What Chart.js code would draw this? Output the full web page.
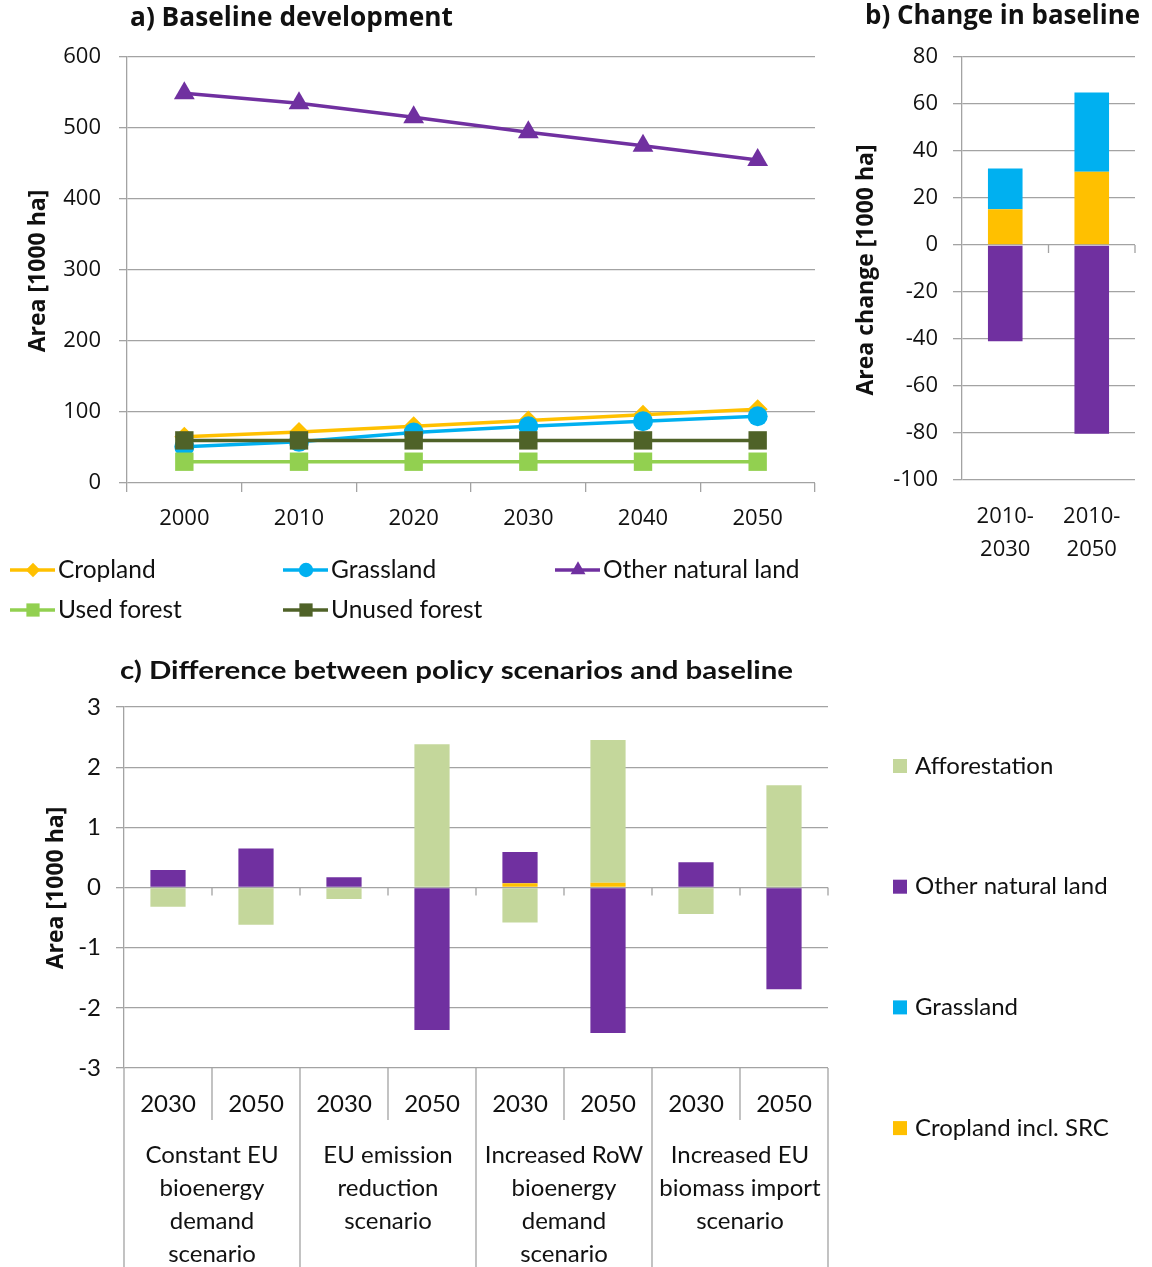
<!DOCTYPE html>
<html>
<head>
<meta charset="utf-8">
<script src="https://cdn.jsdelivr.net/npm/chart.js@4.4.1/dist/chart.umd.min.js"></script>
<style>
  html, body { margin: 0; padding: 0; background: #fff; }
  #wrap { position: relative; width: 1152px; height: 1267px; overflow: hidden; background: #fff; }
  .box { position: absolute; }
</style>
</head>
<body>
<div id="wrap">
  <div class="box" style="left:0;top:0;width:840px;height:640px"><canvas id="cA" width="840" height="640"></canvas></div>
  <div class="box" style="left:845px;top:0;width:307px;height:580px"><canvas id="cB" width="307" height="580"></canvas></div>
  <div class="box" style="left:0;top:640px;width:1152px;height:627px"><canvas id="cC" width="1152" height="627"></canvas></div>
</div>
<script>
// ---- a) Baseline development [1000 ha] ----
const baseYears = ['2000', '2010', '2020', '2030', '2040', '2050'];
const baseCropland = [65, 72, 80, 88, 96, 104];
const baseGrassland = [51, 58, 71, 80, 87, 94];
const baseOtherNatural = [549, 535, 515, 494, 475, 455];
const baseUsedForest = [30, 30, 30, 30, 30, 30];
const baseUnusedForest = [60, 60, 60, 60, 60, 60];

// ---- b) Change in baseline [1000 ha] ----
const changePeriods = [['2010-', '2030'], ['2010-', '2050']];
const changeCropland = [15.2, 31.2];
const changeGrassland = [17.4, 33.7];
const changeOtherNatural = [-41, -80.3];

// ---- c) Difference between policy scenarios and baseline [1000 ha] ----
const scenarioYears = ['2030', '2050', '2030', '2050', '2030', '2050', '2030', '2050'];
const scenarioNames = [
  ['Constant EU', 'bioenergy', 'demand', 'scenario'],
  ['EU emission', 'reduction', 'scenario'],
  ['Increased RoW', 'bioenergy', 'demand', 'scenario'],
  ['Increased EU', 'biomass import', 'scenario']
];
const diffCropland = [0, 0, 0, 0, 0.07, 0.08, 0, 0];
const diffGrassland = [0, 0, 0, 0, 0, 0, 0, 0];
const diffOtherNatural = [0.29, 0.65, 0.17, -2.37, 0.52, -2.42, 0.42, -1.69];
const diffAfforestation = [-0.32, -0.62, -0.19, 2.38, -0.58, 2.37, -0.44, 1.70];

const C_CROP = '#FFC000', C_GRASS = '#00B0F0', C_OTHER = '#7030A0';
const C_USED = '#92D050', C_UNUSED = '#4F6228', C_AFFOR = '#C4D79B';
const GRID = '#a3a3a3';
const TXT = '#111111';
const SANS = '"Open Sans", "DejaVu Sans", sans-serif';
const NARROW = 'Lato, "Liberation Sans", sans-serif';

Chart.defaults.animation = false;
Chart.defaults.devicePixelRatio = 1;
Chart.defaults.color = TXT;

// Draws free text (titles, rotated axis titles) at fixed canvas positions;
// an optional width stretches the text horizontally to that span
function textPlugin(items) {
  return {
    id: 'freeText',
    afterDraw(chart) {
      const ctx = chart.ctx;
      items.forEach(it => {
        ctx.save();
        ctx.font = it.font;
        ctx.fillStyle = it.color || TXT;
        ctx.textAlign = it.align || 'left';
        ctx.textBaseline = 'middle';
        ctx.translate(it.x, it.y);
        if (it.rotate) ctx.rotate(it.rotate);
        if (it.width) ctx.scale(it.width / ctx.measureText(it.text).width, 1);
        ctx.fillText(it.text, 0, 0);
        ctx.restore();
      });
    }
  };
}

// Short tick marks hanging under the zero line, at category boundaries
function zeroTickPlugin(len) {
  return {
    id: 'zeroTicks',
    afterDatasetsDraw(chart) {
      const x = chart.scales.x, y = chart.scales.y;
      const n = x.getLabels().length;
      const y0 = y.getPixelForValue(0);
      const ctx = chart.ctx;
      ctx.save();
      ctx.strokeStyle = GRID;
      ctx.lineWidth = 1.3;
      ctx.beginPath();
      for (let i = 1; i <= n; i++) {
        const px = i < n ? (x.getPixelForValue(i - 1) + x.getPixelForValue(i)) / 2 : x.right;
        ctx.moveTo(px, y0);
        ctx.lineTo(px, y0 + len);
      }
      ctx.stroke();
      ctx.restore();
    }
  };
}

// ---------- Chart a ----------
const lineSets = [
  { label: 'Cropland', data: baseCropland, color: C_CROP, style: 'rectRot', r: 10, order: 5 },
  { label: 'Grassland', data: baseGrassland, color: C_GRASS, style: 'circle', r: 10, order: 4 },
  { label: 'Other natural land', data: baseOtherNatural, color: C_OTHER, style: 'triangle', r: 12, order: 3 },
  { label: 'Used forest', data: baseUsedForest, color: C_USED, style: 'rect', r: 13, order: 2 },
  { label: 'Unused forest', data: baseUnusedForest, color: C_UNUSED, style: 'rect', r: 13, order: 1 }
];

const legendA = {
  id: 'legendA',
  afterDraw(chart) {
    const ctx = chart.ctx;
    const slots = [[10, 570], [283, 570], [555, 570], [10, 610], [283, 610]];
    chart.data.datasets.forEach((ds, i) => {
      const [x0, y] = slots[i];
      ctx.save();
      ctx.strokeStyle = ds.borderColor;
      ctx.lineWidth = ds.borderWidth;
      ctx.beginPath();
      ctx.moveTo(x0, y);
      ctx.lineTo(x0 + 45, y);
      ctx.stroke();
      ctx.fillStyle = ds.pointBackgroundColor;
      ctx.strokeStyle = ds.pointBorderColor;
      Chart.helpers.drawPoint(ctx, { pointStyle: ds.pointStyle, radius: ds.pointRadius * 0.72, rotation: 0, borderWidth: 0 }, x0 + 23, y);
      ctx.font = '24.5px ' + NARROW;
      ctx.fillStyle = TXT;
      ctx.textAlign = 'left';
      ctx.textBaseline = 'middle';
      ctx.fillText(ds.label, x0 + 48, y);
      ctx.restore();
    });
  }
};

new Chart(document.getElementById('cA'), {
  type: 'line',
  data: {
    labels: baseYears,
    datasets: lineSets.map(s => ({
      label: s.label, data: s.data, order: s.order,
      borderColor: s.color, backgroundColor: s.color,
      pointBackgroundColor: s.color, pointBorderColor: s.color,
      pointStyle: s.style, pointRadius: s.r, pointBorderWidth: 0,
      borderWidth: 3.5, tension: 0, fill: false
    }))
  },
  options: {
    responsive: false,
    layout: { padding: { left: 0, right: 25, top: 57, bottom: 97 } },
    plugins: { legend: { display: false }, tooltip: { enabled: false } },
    scales: {
      x: {
        offset: true,
        grid: { display: true, offset: true, drawOnChartArea: false, drawTicks: true, tickLength: 9, color: GRID, lineWidth: 1.3 },
        border: { display: false },
        ticks: { font: { family: SANS, size: 22 }, color: TXT, padding: 14, maxRotation: 0, autoSkip: false },
        afterFit(s) { s.height = 60; }
      },
      y: {
        min: 0, max: 600,
        ticks: { stepSize: 100, font: { family: SANS, size: 22 }, color: TXT, padding: 18 },
        grid: { color: GRID, lineWidth: 1.3, tickLength: 8 },
        border: { color: GRID, width: 1.3 },
        afterFit(s) { s.width = 127; }
      }
    }
  },
  plugins: [legendA, textPlugin([
    { text: 'a) Baseline development', x: 130, y: 19, font: 'bold 26px ' + SANS, width: 323 },
    { text: 'Area [1000 ha]', x: 38, y: 271, font: 'bold 23px ' + SANS, align: 'center', rotate: -Math.PI / 2 }
  ])]
});

// ---------- Chart b ----------
new Chart(document.getElementById('cB'), {
  type: 'bar',
  data: {
    labels: changePeriods,
    datasets: [
      { label: 'Cropland', data: changeCropland, backgroundColor: C_CROP },
      { label: 'Grassland', data: changeGrassland, backgroundColor: C_GRASS },
      { label: 'Other natural land', data: changeOtherNatural, backgroundColor: C_OTHER }
    ]
  },
  options: {
    responsive: false,
    layout: { padding: { left: 0, right: 17, top: 57, bottom: 0 } },
    plugins: { legend: { display: false }, tooltip: { enabled: false } },
    datasets: { bar: { categoryPercentage: 1, barPercentage: 0.4, borderWidth: 0 } },
    scales: {
      x: {
        stacked: true,
        grid: { display: false },
        border: { display: false },
        ticks: { font: { family: SANS, size: 22, lineHeight: 1.5 }, color: TXT, padding: 12, maxRotation: 0, autoSkip: false },
        afterFit(s) { s.height = 100; }
      },
      y: {
        stacked: true, min: -100, max: 80,
        ticks: { stepSize: 20, font: { family: SANS, size: 22 }, color: TXT, padding: 15 },
        grid: { color: GRID, lineWidth: 1.3, tickLength: 9 },
        border: { color: GRID, width: 1.3 },
        afterFit(s) { s.width = 117; }
      }
    }
  },
  plugins: [zeroTickPlugin(8), textPlugin([
    { text: 'b) Change in baseline', x: 20, y: 17, font: 'bold 26px ' + SANS, width: 275 },
    { text: 'Area change [1000 ha]', x: 21, y: 270, font: 'bold 23px ' + SANS, align: 'center', rotate: -Math.PI / 2 }
  ])]
});

// ---------- Chart c ----------
const scenarioAxis = {
  id: 'scenarioAxis',
  afterDraw(chart) {
    const x = chart.scales.x;
    const ctx = chart.ctx;
    const n = x.getLabels().length;
    const bottom = chart.chartArea.bottom;
    const edge = i => i === 0 ? x.left : i === n ? x.right
      : (x.getPixelForValue(i - 1) + x.getPixelForValue(i)) / 2;
    ctx.save();
    ctx.strokeStyle = GRID;
    ctx.lineWidth = 1.3;
    ctx.beginPath();
    for (let i = 0; i <= n; i++) {
      const px = edge(i);
      ctx.moveTo(px, bottom);
      ctx.lineTo(px, i % 2 === 0 ? chart.height : bottom + 52);
    }
    ctx.stroke();
    ctx.font = '24px ' + NARROW;
    ctx.fillStyle = TXT;
    ctx.textAlign = 'center';
    ctx.textBaseline = 'middle';
    scenarioNames.forEach((lines, g) => {
      const cx = (edge(2 * g) + edge(2 * g + 2)) / 2;
      lines.forEach((t, k) => ctx.fillText(t, cx, 515 + k * 33));
    });
    // legend, listed top to bottom in reverse stacking order
    const ds = chart.data.datasets.slice().reverse();
    ds.forEach((d, k) => {
      const y = 126 + k * 120.7;
      ctx.fillStyle = d.backgroundColor;
      ctx.fillRect(893, y - 7, 14, 14);
      ctx.fillStyle = TXT;
      ctx.textAlign = 'left';
      ctx.fillText(d.label, 915, y);
    });
    ctx.restore();
  }
};

new Chart(document.getElementById('cC'), {
  type: 'bar',
  data: {
    labels: scenarioYears,
    datasets: [
      { label: 'Cropland incl. SRC', data: diffCropland, backgroundColor: C_CROP },
      { label: 'Grassland', data: diffGrassland, backgroundColor: C_GRASS },
      { label: 'Other natural land', data: diffOtherNatural, backgroundColor: C_OTHER },
      { label: 'Afforestation', data: diffAfforestation, backgroundColor: C_AFFOR }
    ]
  },
  options: {
    responsive: false,
    layout: { padding: { left: 0, right: 324, top: 67, bottom: 139 } },
    plugins: { legend: { display: false }, tooltip: { enabled: false } },
    datasets: { bar: { categoryPercentage: 1, barPercentage: 0.4, borderWidth: 0 } },
    scales: {
      x: {
        stacked: true,
        grid: { display: false },
        border: { display: false },
        ticks: { font: { family: NARROW, size: 24 }, color: TXT, padding: 14, maxRotation: 0, autoSkip: false },
        afterFit(s) { s.height = 60; }
      },
      y: {
        stacked: true, min: -3, max: 3,
        ticks: { stepSize: 1, font: { family: NARROW, size: 24 }, color: TXT, padding: 15 },
        grid: { color: GRID, lineWidth: 1.3, tickLength: 8 },
        border: { color: GRID, width: 1.3 },
        afterFit(s) { s.width = 124; }
      }
    }
  },
  plugins: [zeroTickPlugin(8), scenarioAxis, textPlugin([
    { text: 'c) Difference between policy scenarios and baseline', x: 120, y: 31, font: 'bold 25px ' + NARROW, width: 673 },
    { text: 'Area [1000 ha]', x: 56, y: 248, font: 'bold 23px ' + SANS, align: 'center', rotate: -Math.PI / 2 }
  ])]
});
</script>
</body>
</html>
